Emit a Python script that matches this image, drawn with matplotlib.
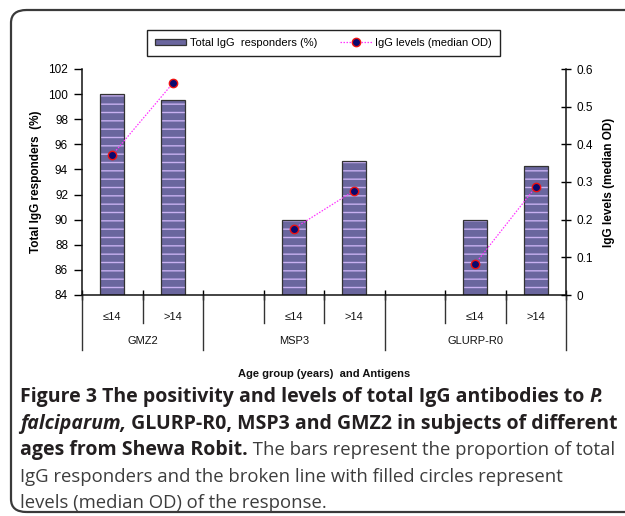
import matplotlib
matplotlib.use("Agg")
import matplotlib.pyplot as plt
from matplotlib.patches import FancyBboxPatch, Patch, Rectangle
from matplotlib.lines import Line2D
from matplotlib.legend_handler import HandlerPatch

plt.rcParams['font.family'] = ['Liberation Sans', 'DejaVu Sans']
plt.rcParams['hatch.linewidth'] = 1.0

# ---------------- data ----------------
groups = ["GMZ2", "MSP3", "GLURP-R0"]
group_slots = [["≤14", ">14"], ["", "≤14", ">14"], ["", "≤14", ">14"]]
responders = [[100.0, 99.5], [None, 90.0, 94.7], [None, 90.0, 94.25]]
od_levels = [[0.372, 0.562], [None, 0.176, 0.277], [None, 0.083, 0.287]]
left_ticks = [84, 86, 88, 90, 92, 94, 96, 98, 100, 102]
right_ticks = [0, 0.1, 0.2, 0.3, 0.4, 0.5, 0.6]
xlabel = "Age group (years)  and Antigens"
ylabel_left = "Total IgG responders  (%)"
ylabel_right = "IgG levels (median OD)"
legend_labels = ["Total IgG  responders (%)", "IgG levels (median OD)"]

W, H = 625, 516
fig = plt.figure(figsize=(W / 100, H / 100), dpi=100)

def fx(px):
    return px / W

def fy(py):
    return 1 - py / H

# outer rounded frame
frame = FancyBboxPatch((fx(11), fy(512)), fx(700), fy(10) - fy(512),
                       boxstyle="round,pad=0,rounding_size=0.025",
                       transform=fig.transFigure, fill=False,
                       edgecolor='#3a3a3a', linewidth=1.6, clip_on=False)
fig.patches.append(frame)

ax = fig.add_axes([fx(82), fy(295), fx(566) - fx(82), fy(69) - fy(295)])
ax2 = ax.twinx()

bar_face = '#6a669e'
hatch_col = '#c8b0f0'
bar_edge = '#333333'
line_col = '#ff33ff'

# positions
pos = 0
boundaries = [(-0.5, 'group')]
for gi, slots in enumerate(group_slots):
    xs = []
    ys_line = []
    for si, lab in enumerate(slots):
        v = responders[gi][si]
        o = od_levels[gi][si]
        if v is not None:
            ax.bar(pos, v - 84, bottom=84, width=0.4, color=bar_face,
                   edgecolor=hatch_col, linewidth=0, hatch='--', zorder=2)
            ax.bar(pos, v - 84, bottom=84, width=0.4, fill=False,
                   edgecolor=bar_edge, linewidth=0.9, zorder=2.1)
        if o is not None:
            xs.append(pos)
            ys_line.append(o)
        if lab:
            ax.text(pos, -0.097, lab, transform=ax.get_xaxis_transform(),
                    ha='center', va='center', fontsize=8, color='#111111')
        if si < len(slots) - 1:
            boundaries.append((pos + 0.5, 'sub'))
        pos += 1
    ax2.plot(xs, ys_line, linestyle=(0, (1.2, 1.2)), color=line_col, linewidth=0.9,
             marker='o', markersize=6, markerfacecolor='#0a0a6e',
             markeredgecolor='#ee1111', markeredgewidth=1.0, zorder=3)
    center = (pos - len(slots) + pos - 1) / 2
    ax.text(center, -0.204, groups[gi], transform=ax.get_xaxis_transform(),
            ha='center', va='center', fontsize=8, color='#111111')
    boundaries.append((pos - 0.5, 'group'))

xt = ax.get_xaxis_transform()
for bx, kind in boundaries:
    y0 = -0.124 if kind == 'sub' else -0.243
    ax.plot([bx, bx], [0, y0], transform=xt, color='#333333', linewidth=1.0,
            clip_on=False)

ax.set_xlim(-0.5, pos - 0.5)
ax.set_xticks([b for b, _ in boundaries])
ax.set_xticklabels([])
ax.tick_params(axis='x', direction='inout', length=7, width=1.0)

ax.set_ylim(84, 102)
ax.set_yticks(left_ticks)
ax.set_yticklabels([str(t) for t in left_ticks], fontsize=8.5)
ax.tick_params(axis='y', direction='out', length=6, width=1.0, pad=4)
ax2.set_ylim(0, 0.6)
ax2.set_yticks(right_ticks)
ax2.set_yticklabels(['0' if t == 0 else f"{t:g}" for t in right_ticks], fontsize=8.5)
ax2.tick_params(axis='y', direction='inout', length=7, width=1.0, pad=4)

for a in (ax, ax2):
    a.spines['top'].set_visible(False)
    for s in ('left', 'right', 'bottom'):
        a.spines[s].set_linewidth(1.1)
        a.spines[s].set_color('#111111')
ax.spines['right'].set_visible(False)
ax2.spines['left'].set_visible(False)
ax2.spines['bottom'].set_visible(False)
ax.set_facecolor('none')
ax2.set_facecolor('none')

ax.set_ylabel(ylabel_left, fontsize=8.5, fontweight='bold')
ax.yaxis.set_label_coords(-0.083, 0.5)
ax2.set_ylabel(ylabel_right, fontsize=8.5, fontweight='bold', rotation=90)
ax2.yaxis.set_label_coords(1.076, 0.5)
ax.text(0.5, -0.35, xlabel, transform=ax.transAxes, ha='center', va='center',
        fontsize=8, fontweight='bold', color='#111111')

# legend
class HatchHandler(HandlerPatch):
    def create_artists(self, legend, orig_handle, xdescent, ydescent, width, height,
                       fontsize, trans):
        r1 = Rectangle((-xdescent, -ydescent), width, height, facecolor=bar_face,
                       edgecolor=hatch_col, linewidth=0, hatch='--', transform=trans)
        r2 = Rectangle((-xdescent, -ydescent), width, height, fill=False,
                       edgecolor=bar_edge, linewidth=0.9, transform=trans)
        return [r1, r2]

h1 = Patch(facecolor=bar_face, edgecolor=bar_edge)
h2 = Line2D([], [], linestyle=(0, (1.2, 1.2)), color=line_col, linewidth=0.9,
            marker='o', markersize=6, markerfacecolor='#0a0a6e',
            markeredgecolor='#ee1111')
fig.legend([h1, h2], legend_labels, loc='center', bbox_to_anchor=(fx(323.5), fy(43)),
           ncol=2, fontsize=8, frameon=True, fancybox=False, edgecolor='#222222',
           framealpha=1, borderpad=0.75, handlelength=2.8, handletextpad=0.3,
           columnspacing=2.1, handleheight=0.5,
           handler_map={Patch: HatchHandler()})

# caption
cap_font = ['Open Sans', 'DejaVu Sans']
bold_size = 14.0
reg_size = 13.3
bold_col = '#231f20'
reg_col = '#3d3d3d'
lines = [
    [("Figure 3 The positivity and levels of total IgG antibodies to ", 'bold', 'normal', bold_col),
     ("P.", 'bold', 'italic', bold_col)],
    [("falciparum,", 'bold', 'italic', bold_col),
     (" GLURP-R0, MSP3 and GMZ2 in subjects of different", 'bold', 'normal', bold_col)],
    [("ages from Shewa Robit.", 'bold', 'normal', bold_col),
     (" The bars represent the proportion of total", 'normal', 'normal', reg_col)],
    [("IgG responders and the broken line with filled circles represent", 'normal', 'normal', reg_col)],
    [("levels (median OD) of the response.", 'normal', 'normal', reg_col)],
]
baselines = [402, 429, 455, 482, 508]
fig.canvas.draw()
renderer = fig.canvas.get_renderer()
for runs, by in zip(lines, baselines):
    x = 20.0
    for txt, wt, st, col in runs:
        size = bold_size if wt == 'bold' else reg_size
        t = fig.text(fx(x), fy(by), txt, fontsize=size, fontweight=wt, fontstyle=st,
                     color=col, family=cap_font, va='baseline', ha='left')
        bb = t.get_window_extent(renderer)
        x += bb.width

fig.savefig("out.png", dpi=100)
